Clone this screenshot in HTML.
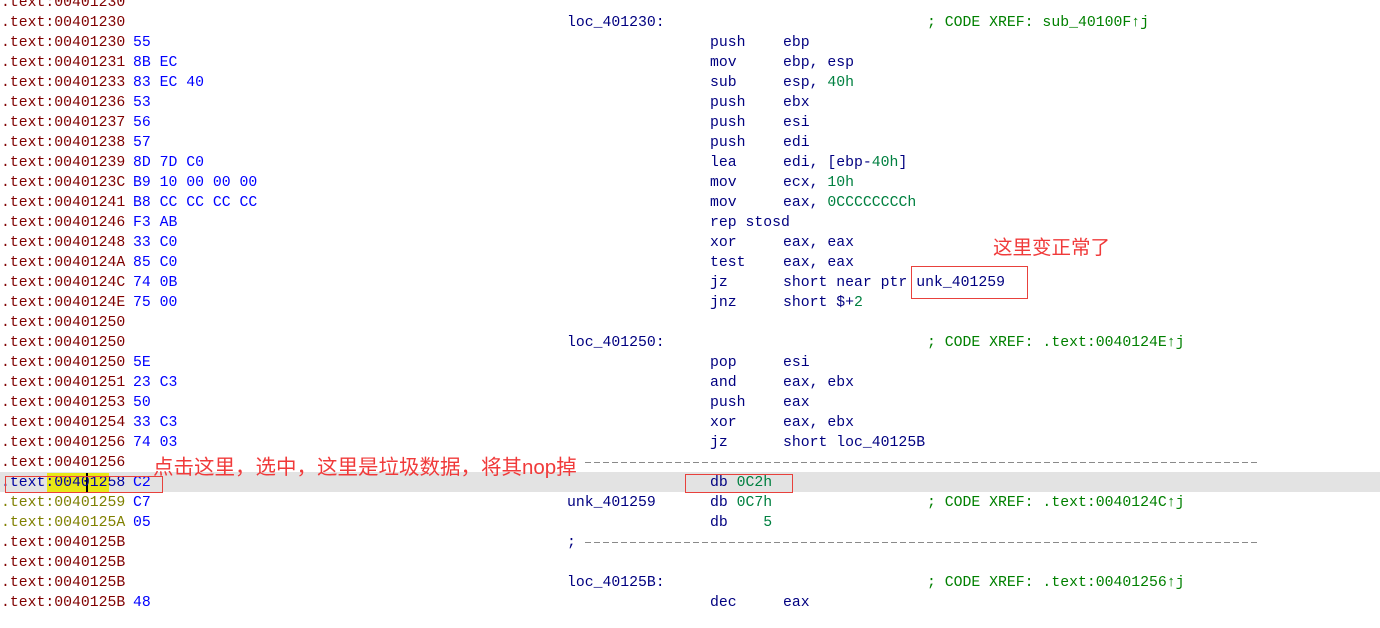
<!DOCTYPE html>
<html><head><meta charset="utf-8"><style>
html,body{margin:0;padding:0;background:#fff;}
body{width:1380px;height:628px;position:relative;overflow:hidden;font-family:"Liberation Mono",monospace;font-size:14.8px;}
.l{position:absolute;left:0;width:1380px;height:20px;line-height:20px;white-space:pre;margin-top:1px;}
.l span{position:absolute;top:0;}
.a{left:1px;color:#800000;}
.y{color:#808000;}
.b{left:133px;color:#0000ff;}
.lb{left:567px;color:#000080;}
.m{left:710px;color:#000080;}
.o{left:783px;color:#000080;}
.c{left:927px;color:#008000;}
.n{color:#008040;}
.dash{position:absolute;left:585px;width:673px;height:1px;background:repeating-linear-gradient(90deg,#8a8a8a 0 6px,transparent 6px 9px);}
.box{position:absolute;border:1px solid #e8413c;}
.ann{position:absolute;color:#f03a3a;font-family:"Liberation Sans","Noto Sans CJK SC",sans-serif;font-size:19.5px;line-height:22px;white-space:nowrap;}
</style></head><body>
<div style="position:absolute;left:0;top:472px;width:1380px;height:20px;background:#e3e3e3"></div>
<div style="position:absolute;left:47px;top:473px;width:62px;height:19px;background:#e8e817"></div>
<div style="position:absolute;left:86px;top:473px;width:2px;height:19px;background:#000"></div>

<div class="l" style="top:-8px"><span class="a">.text:00401230</span></div>
<div class="l" style="top:12px"><span class="a">.text:00401230</span><span class="lb">loc_401230:</span><span class="c">; CODE XREF: sub_40100F↑j</span></div>
<div class="l" style="top:32px"><span class="a">.text:00401230</span><span class="b">55</span><span class="m">push</span><span class="o">ebp</span></div>
<div class="l" style="top:52px"><span class="a">.text:00401231</span><span class="b">8B EC</span><span class="m">mov</span><span class="o">ebp, esp</span></div>
<div class="l" style="top:72px"><span class="a">.text:00401233</span><span class="b">83 EC 40</span><span class="m">sub</span><span class="o">esp, <b class="n" style="font-weight:normal">40h</b></span></div>
<div class="l" style="top:92px"><span class="a">.text:00401236</span><span class="b">53</span><span class="m">push</span><span class="o">ebx</span></div>
<div class="l" style="top:112px"><span class="a">.text:00401237</span><span class="b">56</span><span class="m">push</span><span class="o">esi</span></div>
<div class="l" style="top:132px"><span class="a">.text:00401238</span><span class="b">57</span><span class="m">push</span><span class="o">edi</span></div>
<div class="l" style="top:152px"><span class="a">.text:00401239</span><span class="b">8D 7D C0</span><span class="m">lea</span><span class="o">edi, [ebp-<b class="n" style="font-weight:normal">40h</b>]</span></div>
<div class="l" style="top:172px"><span class="a">.text:0040123C</span><span class="b">B9 10 00 00 00</span><span class="m">mov</span><span class="o">ecx, <b class="n" style="font-weight:normal">10h</b></span></div>
<div class="l" style="top:192px"><span class="a">.text:00401241</span><span class="b">B8 CC CC CC CC</span><span class="m">mov</span><span class="o">eax, <b class="n" style="font-weight:normal">0CCCCCCCCh</b></span></div>
<div class="l" style="top:212px"><span class="a">.text:00401246</span><span class="b">F3 AB</span><span class="m">rep stosd</span></div>
<div class="l" style="top:232px"><span class="a">.text:00401248</span><span class="b">33 C0</span><span class="m">xor</span><span class="o">eax, eax</span></div>
<div class="l" style="top:252px"><span class="a">.text:0040124A</span><span class="b">85 C0</span><span class="m">test</span><span class="o">eax, eax</span></div>
<div class="l" style="top:272px"><span class="a">.text:0040124C</span><span class="b">74 0B</span><span class="m">jz</span><span class="o">short near ptr unk_401259</span></div>
<div class="l" style="top:292px"><span class="a">.text:0040124E</span><span class="b">75 00</span><span class="m">jnz</span><span class="o">short $+<b class="n" style="font-weight:normal">2</b></span></div>
<div class="l" style="top:312px"><span class="a">.text:00401250</span></div>
<div class="l" style="top:332px"><span class="a">.text:00401250</span><span class="lb">loc_401250:</span><span class="c">; CODE XREF: .text:0040124E↑j</span></div>
<div class="l" style="top:352px"><span class="a">.text:00401250</span><span class="b">5E</span><span class="m">pop</span><span class="o">esi</span></div>
<div class="l" style="top:372px"><span class="a">.text:00401251</span><span class="b">23 C3</span><span class="m">and</span><span class="o">eax, ebx</span></div>
<div class="l" style="top:392px"><span class="a">.text:00401253</span><span class="b">50</span><span class="m">push</span><span class="o">eax</span></div>
<div class="l" style="top:412px"><span class="a">.text:00401254</span><span class="b">33 C3</span><span class="m">xor</span><span class="o">eax, ebx</span></div>
<div class="l" style="top:432px"><span class="a">.text:00401256</span><span class="b">74 03</span><span class="m">jz</span><span class="o">short loc_40125B</span></div>
<div class="l" style="top:452px"><span class="a">.text:00401256</span></div>
<div class="dash" style="top:462px"></div>
<div class="l" style="top:472px"><span class="a" style="color:#0000a0">.text:00401258</span><span class="b">C2</span><span class="m">db <b class="n" style="font-weight:normal">0C2h</b></span></div>
<div class="l" style="top:492px"><span class="a y">.text:00401259</span><span class="b">C7</span><span class="lb">unk_401259</span><span class="m">db <b class="n" style="font-weight:normal">0C7h</b></span><span class="c">; CODE XREF: .text:0040124C↑j</span></div>
<div class="l" style="top:512px"><span class="a y">.text:0040125A</span><span class="b">05</span><span class="m">db    <b class="n" style="font-weight:normal">5</b></span></div>
<div class="l" style="top:532px"><span class="a">.text:0040125B</span><span class="lb">;</span></div>
<div class="dash" style="top:542px"></div>
<div class="l" style="top:552px"><span class="a">.text:0040125B</span></div>
<div class="l" style="top:572px"><span class="a">.text:0040125B</span><span class="lb">loc_40125B:</span><span class="c">; CODE XREF: .text:00401256↑j</span></div>
<div class="l" style="top:592px"><span class="a">.text:0040125B</span><span class="b">48</span><span class="m">dec</span><span class="o">eax</span></div>

<div class="box" style="left:911px;top:266px;width:115px;height:31px"></div>
<div class="box" style="left:5px;top:476px;width:156px;height:15px"></div>
<div class="box" style="left:685px;top:474px;width:106px;height:17px"></div>
<div class="ann" style="left:993px;top:237px">这里变正常了</div>
<div class="ann" style="left:153px;top:457px;font-size:20.5px">点击这里，选中，这里是垃圾数据，将其nop掉</div>
</body></html>
